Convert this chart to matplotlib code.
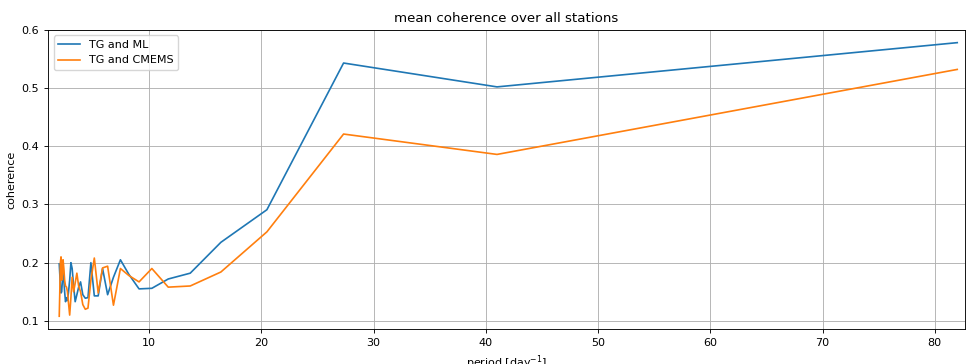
import numpy as np
import matplotlib
matplotlib.use('Agg')
import matplotlib.pyplot as plt

# periods of the spectral estimates (days)
period = [82.0, 41.0, 27.33, 20.5, 16.4, 13.67, 11.71, 10.25, 9.11, 8.2,
          7.45, 6.83, 6.31, 5.86, 5.47, 5.125, 4.82, 4.56, 4.32, 4.1,
          3.90, 3.73, 3.57, 3.42, 3.28, 3.15, 3.04, 2.93, 2.83, 2.73,
          2.65, 2.56, 2.48, 2.41, 2.34, 2.28, 2.22, 2.16, 2.10, 2.05, 2.0]

coh_ml = [0.578, 0.502, 0.543, 0.291, 0.235, 0.182, 0.172, 0.156, 0.155, 0.180,
          0.205, 0.175, 0.145, 0.190, 0.143, 0.143, 0.200, 0.140, 0.139, 0.145,
          0.167, 0.158, 0.145, 0.133, 0.160, 0.190, 0.200, 0.170, 0.150, 0.135,
          0.140, 0.133, 0.150, 0.170, 0.193, 0.170, 0.150, 0.148, 0.160, 0.180, 0.198]

coh_cmems = [0.532, 0.386, 0.421, 0.253, 0.184, 0.160, 0.158, 0.190, 0.167, 0.178,
             0.190, 0.127, 0.194, 0.191, 0.148, 0.208, 0.170, 0.122, 0.120, 0.128,
             0.150, 0.160, 0.182, 0.165, 0.150, 0.175, 0.140, 0.110, 0.130, 0.150,
             0.158, 0.160, 0.170, 0.190, 0.205, 0.180, 0.170, 0.210, 0.200, 0.150, 0.108]

# the reference looks like a bigger figure shrunk by ~0.8
s = 0.8
plt.rcParams.update({
    'font.size': 10 * s,
    'lines.linewidth': 1.5 * s,
    'axes.linewidth': 0.8 * s,
    'grid.linewidth': 0.8 * s,
    'xtick.major.size': 3.5 * s,
    'ytick.major.size': 3.5 * s,
    'xtick.major.width': 0.8 * s,
    'ytick.major.width': 0.8 * s,
    'legend.fontsize': 10 * s,
    'axes.titlesize': 12 * s,
})

fig, ax = plt.subplots(figsize=(9.68, 3.64), dpi=100)
ax.plot(period, coh_ml, label='TG and ML')
ax.plot(period, coh_cmems, label='TG and CMEMS')
ax.set_title('mean coherence over all stations')
ax.set_xlabel('period [day$^{-1}$]')
ax.set_ylabel('coherence')
ax.set_xlim(1.0, 82.7)
ax.set_ylim(0.086, 0.6)
ax.grid(True)
ax.legend(loc='upper left')
plt.subplots_adjust(left=0.0496, right=0.997, top=0.918, bottom=0.096)
plt.savefig('out.png')
